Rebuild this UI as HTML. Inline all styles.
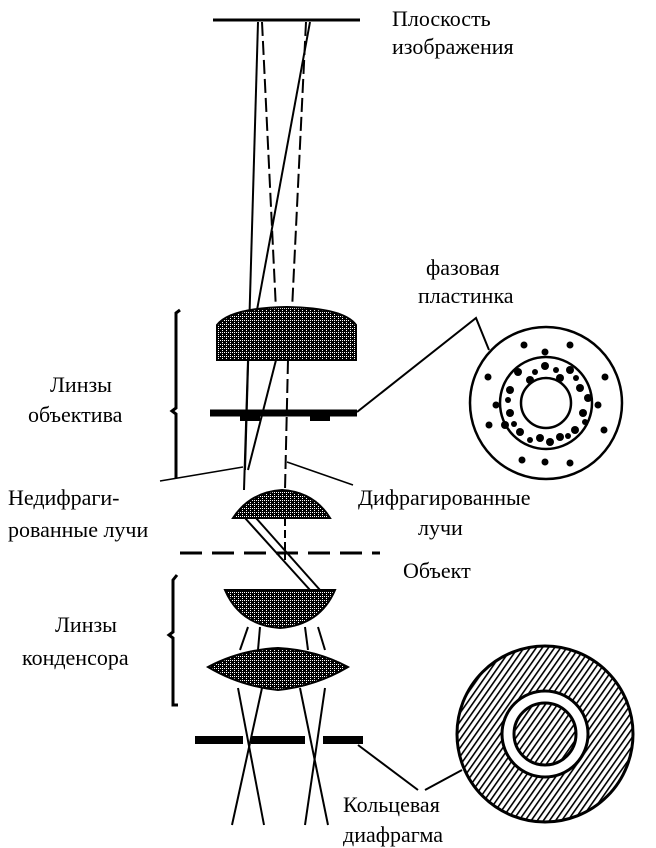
<!DOCTYPE html>
<html><head><meta charset="utf-8"><style>
html,body{margin:0;padding:0;background:#fff;}
svg{display:block}
text{font-family:"Liberation Serif","DejaVu Serif",serif;font-size:22px;fill:#000}
</style></head><body>
<svg width="656" height="848" viewBox="0 0 656 848" xmlns="http://www.w3.org/2000/svg">
<defs>
<pattern id="ck" width="4" height="4" patternUnits="userSpaceOnUse">
<rect width="4" height="4" fill="#000"/><rect x="0" y="0" width="1" height="1" fill="#fff"/><rect x="2" y="2" width="1" height="1" fill="#fff"/><rect x="2" y="0" width="1" height="1" fill="#fff"/>
</pattern>
<pattern id="hat" width="5" height="5" patternUnits="userSpaceOnUse" patternTransform="rotate(-55)">
<rect width="5" height="5" fill="#fff"/><rect width="5" height="1.6" fill="#000"/>
</pattern>
</defs>
<g stroke="#000" fill="none">
<line x1="213" y1="20" x2="360" y2="20" stroke-width="3"/>
<line x1="258" y1="22" x2="245" y2="470" stroke-width="2"/>
<line x1="262" y1="22" x2="276" y2="310" stroke-width="2" stroke-dasharray="14 5"/>
<line x1="310" y1="22" x2="257" y2="310" stroke-width="2"/>
<line x1="306" y1="22" x2="292" y2="310" stroke-width="2" stroke-dasharray="14 5"/>
<line x1="276" y1="360" x2="248" y2="470" stroke-width="2"/>
<line x1="288" y1="360" x2="285" y2="490" stroke-width="2" stroke-dasharray="14 5"/>
<line x1="248" y1="360" x2="244" y2="490" stroke-width="2"/>
<path d="M217 360 L217 325 Q230 308 287 307 Q344 308 356 325 L356 360 Z" fill="url(#ck)" stroke-width="2"/>
<line x1="210" y1="413" x2="357" y2="413" stroke-width="7"/>
<rect x="240" y="415" width="20" height="6" fill="#000" stroke="none"/>
<rect x="310" y="415" width="20" height="6" fill="#000" stroke="none"/>
<polyline points="357,412 476,318 489,350" stroke-width="2"/>
<circle cx="546" cy="403" r="76" stroke-width="2.5" fill="#fff"/>
<circle cx="546" cy="403" r="46" stroke-width="2.5"/>
<circle cx="546" cy="403" r="25" stroke-width="2.5"/>
<g fill="#000" stroke="none">
<circle cx="524" cy="345" r="3.5"/><circle cx="570" cy="345" r="3.5"/><circle cx="488" cy="377" r="3.5"/><circle cx="605" cy="377" r="3.5"/>
<circle cx="496" cy="405" r="3.5"/><circle cx="598" cy="405" r="3.5"/><circle cx="489" cy="425" r="3.5"/><circle cx="604" cy="430" r="3.5"/>
<circle cx="522" cy="460" r="3.5"/><circle cx="545" cy="462" r="3.5"/><circle cx="570" cy="463" r="3.5"/><circle cx="545" cy="352" r="3.5"/>
<circle cx="518" cy="372" r="4"/><circle cx="545" cy="366" r="4"/><circle cx="570" cy="370" r="4"/><circle cx="510" cy="390" r="4"/>
<circle cx="580" cy="388" r="4"/><circle cx="510" cy="413" r="4"/><circle cx="583" cy="413" r="4"/><circle cx="520" cy="432" r="4"/>
<circle cx="540" cy="438" r="4"/><circle cx="560" cy="437" r="4"/><circle cx="575" cy="430" r="4"/><circle cx="530" cy="380" r="4"/>
<circle cx="560" cy="378" r="4"/><circle cx="505" cy="425" r="4"/><circle cx="588" cy="398" r="4"/><circle cx="550" cy="442" r="4"/>
<circle cx="508" cy="400" r="3"/><circle cx="585" cy="422" r="3"/><circle cx="530" cy="440" r="3"/><circle cx="556" cy="370" r="3"/>
<circle cx="535" cy="372" r="3"/><circle cx="576" cy="378" r="3"/><circle cx="514" cy="424" r="3"/><circle cx="568" cy="436" r="3"/>
</g>
<polyline points="180,310 176,313 176,408 172,411 176,414 176,478" stroke-width="3"/>
<line x1="160" y1="481" x2="243" y2="467" stroke-width="1.5"/>
<line x1="287" y1="462" x2="353" y2="485" stroke-width="1.5"/>
<path d="M233 518 Q250 492 282 490 Q314 492 330 518 Z" fill="url(#ck)" stroke-width="2"/>
<line x1="245" y1="518" x2="310" y2="590" stroke-width="2"/>
<line x1="256" y1="518" x2="320" y2="590" stroke-width="2"/>
<line x1="285" y1="518" x2="285" y2="560" stroke-width="2" stroke-dasharray="8 4"/>
<line x1="180" y1="553" x2="380" y2="553" stroke-width="3" stroke-dasharray="22 10"/>
<path d="M225 590 L335 590 Q320 625 280 628 Q240 625 225 590 Z" fill="url(#ck)" stroke-width="2"/>
<path d="M208 667 Q240 650 278 648 Q316 650 348 667 Q316 686 278 690 Q240 686 208 667 Z" fill="url(#ck)" stroke-width="2"/>
<line x1="248" y1="627" x2="240" y2="650" stroke-width="2"/>
<line x1="260" y1="627" x2="258" y2="650" stroke-width="2"/>
<line x1="305" y1="627" x2="308" y2="650" stroke-width="2"/>
<line x1="318" y1="627" x2="325" y2="650" stroke-width="2"/>
<line x1="238" y1="688" x2="264" y2="825" stroke-width="2"/>
<line x1="262" y1="688" x2="232" y2="825" stroke-width="2"/>
<line x1="300" y1="688" x2="328" y2="825" stroke-width="2"/>
<line x1="325" y1="688" x2="305" y2="825" stroke-width="2"/>
<polyline points="177,575 173,580 173,632 169,635 173,638 173,705 178,705" stroke-width="3"/>
<line x1="195" y1="740" x2="243" y2="740" stroke-width="8"/>
<line x1="251" y1="740" x2="305" y2="740" stroke-width="8"/>
<line x1="323" y1="740" x2="363" y2="740" stroke-width="8"/>
<polyline points="358,745 418,790" stroke-width="2"/>
<line x1="425" y1="790" x2="462" y2="770" stroke-width="2"/>
<circle cx="545" cy="734" r="88" fill="url(#hat)" stroke-width="3"/>
<circle cx="545" cy="734" r="43" fill="#fff" stroke-width="3"/>
<circle cx="545" cy="734" r="31" fill="url(#hat)" stroke-width="3"/>
</g>
<text x="392" y="26">Плоскость</text>
<text x="392" y="54">изображения</text>
<text x="426" y="275">фазовая</text>
<text x="418" y="303">пластинка</text>
<text x="50" y="392">Линзы</text>
<text x="28" y="422">объектива</text>
<text x="8" y="505">Недифраги-</text>
<text x="8" y="537">рованные лучи</text>
<text x="358" y="505">Дифрагированные</text>
<text x="418" y="535">лучи</text>
<text x="403" y="578">Объект</text>
<text x="55" y="632">Линзы</text>
<text x="22" y="665">конденсора</text>
<text x="343" y="812">Кольцевая</text>
<text x="343" y="842">диафрагма</text>
</svg>
</body></html>
